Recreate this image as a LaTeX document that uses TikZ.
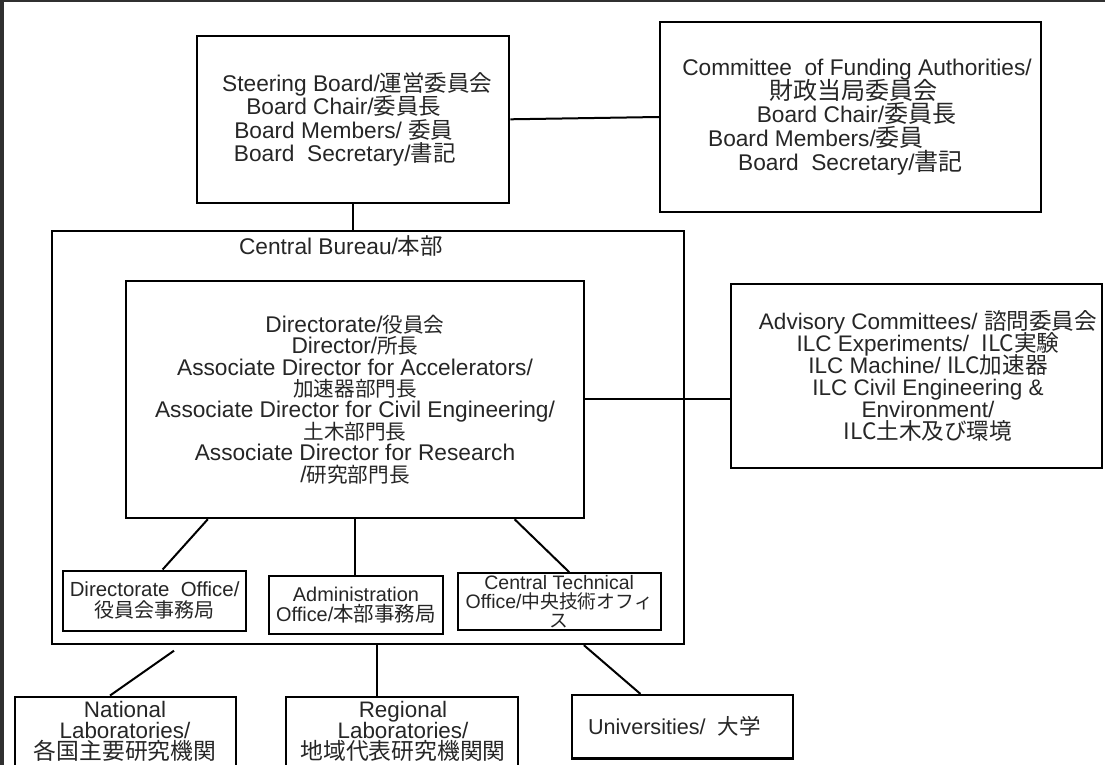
\documentclass[tikz,border=0pt]{standalone}
\usepackage{fontspec}
\setmainfont{Liberation Sans}
\newfontfamily\cjk{Noto Sans CJK JP}
\usetikzlibrary{calc}
\def\cjksz{22.5}
\newcommand\jp[1]{{\fontsize{\cjksz}{12}\cjk #1}}
\newcommand\Lft[2]{\hbox{#2\kern#1pt}}
\newcommand\Rgt[2]{\hbox{\kern#1pt#2}}
\definecolor{framegray}{HTML}{303030}
\definecolor{txt}{HTML}{262626}
\lineskiplimit=-100pt
\begin{document}
\begin{tikzpicture}[x=1pt,y=-1pt,
  box/.style={draw=black, line width=2.3pt, inner sep=0pt, align=center, text=txt},
  lbl/.style={inner sep=0pt, align=center, text=txt},
  conn/.style={draw=black, line width=2pt},
  fs/.style n args={3}{font={\fontsize{#1}{#2}\selectfont\def\cjksz{#3}}},
]
\useasboundingbox (0,0) rectangle (1105,765);
\clip (0,0) rectangle (1105,765);
\fill[white] (0,0) rectangle (1105,765);
\fill[framegray] (0,0) rectangle (4,765);
\fill[framegray] (0,0) rectangle (1105,2);

% top boxes
\node[box, fs={22.7}{23.6}{22.5}, minimum width=312, minimum height=166.7] (sb) at (353.3,119.3) {%
\Rgt{8}{Steering Board/\jp{運営委員会}}\\
\Lft{19}{Board Chair/\jp{委員長}}\\
\Lft{19}{Board Members/ \jp{委員}}\\
\Lft{17}{Board\ \ Secretary/\jp{書記}}};

\node[box, fs={22.7}{23.75}{24}, minimum width=381, minimum height=190] (fa) at (850.5,117) {%
\Rgt{13}{Committee\ \ of Funding Authorities/}\\
\Rgt{5}{\jp{財政当局委員会}}\\
\Rgt{12}{Board Chair/\jp{委員長}}\\
\Lft{69}{Board Members/\jp{委員}}\\
\hbox{Board\ \ Secretary/\jp{書記}}};

% central bureau
\node[box, minimum width=632, minimum height=413] (cb) at (368,437.5) {};
\node[lbl, fs={22.7}{23}{22.5}] (cbt) at (341,246) {Central Bureau/\jp{本部}};

\node[box, fs={22.7}{21.4}{20.6}, minimum width=458.6, minimum height=237.3] (dir) at (355,399.4) {%
Directorate/\jp{役員会}\\
Director/\jp{所長}\\
Associate Director for Accelerators/\\
\jp{加速器部門長}\\
Associate Director for Civil Engineering/\\
\jp{土木部門長}\\
Associate Director for Research\\
/\jp{研究部門長}};

\node[box, fs={22.5}{22}{22.6}, minimum width=371, minimum height=184.3] (adv) at (916.5,376) {%
\Rgt{23}{Advisory Committees/ \jp{諮問委員会}}\\
\Rgt{23}{ILC Experiments/\ \ \jp{ILC実験}}\\
\Rgt{23}{ILC Machine/ \jp{ILC加速器}}\\
\Rgt{23}{ILC Civil Engineering \&}\\
\Rgt{23}{Environment/}\\
\Rgt{23}{\jp{ILC土木及び環境}}};

% offices
\node[box, fs={20.4}{20.7}{20}, minimum width=183, minimum height=60] (do) at (154.6,600.7) {%
Directorate\ \ Office/\\ \jp{役員会事務局}};
\node[box, fs={19.9}{19.3}{20.5}, minimum width=173.4, minimum height=58] (ao) at (356,605) {%
Administration\\ Office/\jp{本部事務局}};
\node[box, fs={19.5}{19}{18.8}, minimum width=203, minimum height=56.4] (ct) at (559.2,601.5) {%
Central Technical\\ Office/\jp{中央技術オフィ}\\ \jp{ス}};

% bottom boxes
\node[box, minimum width=221, minimum height=80] (nl) at (125.5,736.7) {};
\node[lbl, fs={22.4}{21.3}{22.8}] (nlt) at (125,731.5) {National\\ Laboratories/\\ \jp{各国主要研究機関}};
\node[box, minimum width=232, minimum height=80] (rl) at (402,736.7) {};
\node[lbl, fs={22.4}{21.3}{22.8}] (rlt) at (403,731.5) {Regional\\ Laboratories/\\ \jp{地域代表研究機関関}};
\node[box, fs={21.6}{22}{21.5}, minimum width=221.3, minimum height=63.3] (un) at (682.4,726.7) {%
\Lft{16}{Universities/\ \ \jp{大学}}};

% connectors
\draw[conn] (sb.east) -- (fa.west);
\draw[conn] (sb.south) -- (sb.south |- cb.north);
\draw[conn] (dir.east) -- (dir.east -| adv.west);
\draw[conn] ($(dir.south west)+(83.3,0)$) -- ($(do.north)+(8,0)$);
\draw[conn] (dir.south) -- (dir.south |- ao.north);
\draw[conn] ($(dir.south west)+(390,0)$) -- ($(ct.north)+(10,0)$);
\coordinate (n0) at (174,650.7);
\draw[conn] (n0) -- ($(nl.north)+(-15.5,0)$);
\coordinate (r0) at ($(cb.south west)+(326,0)$);
\draw[conn] (r0) -- (r0 |- rl.north);
\draw[conn] ($(cb.south west)+(533,0)$) -- ($(un.north)+(-42,0)$);
\end{tikzpicture}
\end{document}
